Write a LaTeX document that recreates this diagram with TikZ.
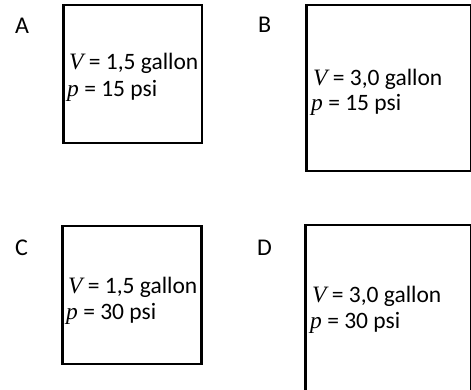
\documentclass[tikz,border=0pt]{standalone}
\usepackage{fontspec}
\setmainfont{Carlito}
\newfontfamily\varfont{Liberation Serif}
\newcommand{\vv}{{\varfont\itshape V}}
\newcommand{\pp}{{\varfont\itshape p}}
\begin{document}
\begin{tikzpicture}[x=1pt,y=-1pt,
  box/.style={draw=black,line width=2.6pt,inner sep=0pt,outer sep=0pt},
  lbl/.style={anchor=base west,inner sep=0pt,font=\fontsize{24}{28}\selectfont},
  txt/.style={anchor=base west,inner sep=0pt,font=\fontsize{23.5}{28}\selectfont}]
\useasboundingbox (0,0) rectangle (471,389);
\begin{scope}
\clip (0,0) rectangle (471,389);
\node[box,minimum width=138.5pt,minimum height=138pt] (boxA) at (132.75,74) {};
\node[box,minimum width=165pt,minimum height=166pt] (boxB) at (389,88) {};
\node[box,minimum width=139pt,minimum height=138pt] (boxC) at (132,295) {};
\node[box,minimum width=166pt,minimum height=166pt] (boxD) at (388.5,308) {};
\end{scope}
\node[lbl] (labA) at (15,33) {A};
\node[lbl] (labB) at (258,32) {B};
\node[lbl] (labC) at (15,255) {C};
\node[lbl] (labD) at (257,255) {D};
\node[txt] (vA) at (69,69) {\vv{} = 1,5 gallon};
\node[txt] (pA) at (67,96) {\pp{} = 15 psi};
\node[txt] (vB) at (313,85) {\vv{} = 3,0 gallon};
\node[txt] (pB) at (311,110) {\pp{} = 15 psi};
\node[txt] (vC) at (68,293) {\vv{} = 1,5 gallon};
\node[txt] (pC) at (66,319) {\pp{} = 30 psi};
\node[txt] (vD) at (312,302) {\vv{} = 3,0 gallon};
\node[txt] (pD) at (310,328) {\pp{} = 30 psi};
\end{tikzpicture}
\end{document}
